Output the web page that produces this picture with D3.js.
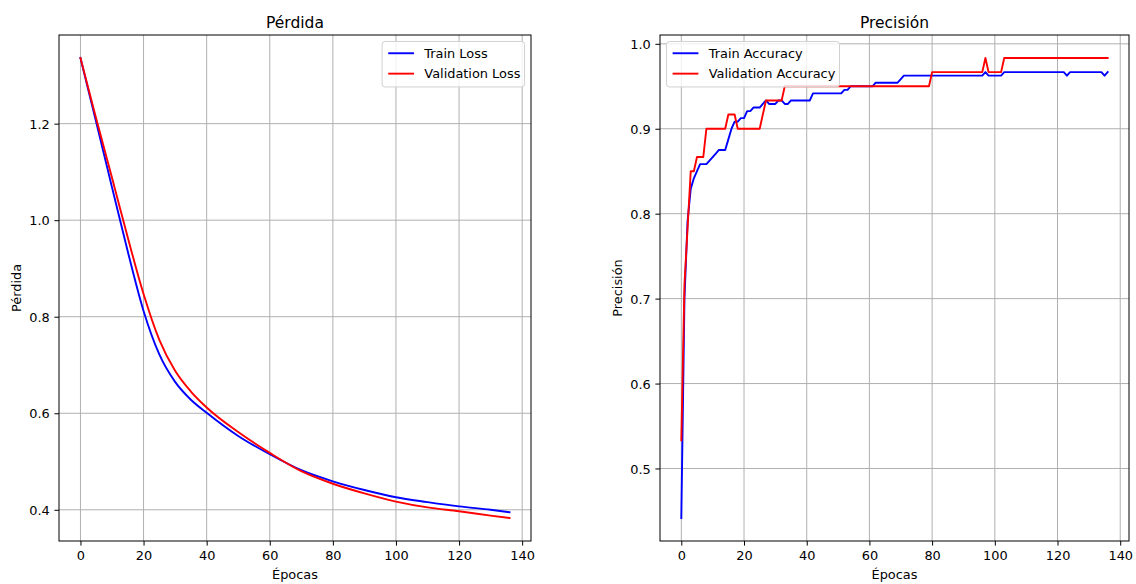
<!DOCTYPE html>
<html>
<head>
<meta charset="utf-8">
<script src="https://cdn.jsdelivr.net/npm/d3@7"></script>
<style>
  body { margin: 0; background: #fff; }
  svg { display: block; }
  text { font-family: "DejaVu Sans", sans-serif; fill: #000; }
</style>
</head>
<body>
<script>
// ---------------- DATA ----------------
const xTicks = [0, 20, 40, 60, 80, 100, 120, 140];
const lossTicks = [0.4, 0.6, 0.8, 1.0, 1.2];
const accTicks = [0.5, 0.6, 0.7, 0.8, 0.9, 1.0];

// Loss curves (read at sampled epochs)
const lossEpochs = [0, 5, 10, 15, 20, 25, 30, 35, 40, 50, 60, 70, 80, 90, 100, 110, 120, 130, 136];
const trainLoss  = [1.336, 1.203, 1.068, 0.935, 0.812, 0.722, 0.665, 0.628, 0.601, 0.553, 0.515, 0.482, 0.459, 0.441, 0.426, 0.416, 0.407, 0.400, 0.395];
const valLoss    = [1.336, 1.210, 1.088, 0.964, 0.847, 0.752, 0.688, 0.645, 0.612, 0.561, 0.518, 0.480, 0.454, 0.434, 0.417, 0.405, 0.397, 0.388, 0.383];

// Accuracy curves (one value per epoch, 0..136)
const trainAcc = [
  0.4417, 0.7000, 0.7917, 0.8292, 0.8417, 0.8500, 0.8583, 0.8583, 0.8583, 0.8625,
  0.8667, 0.8708, 0.8750, 0.8750, 0.8750, 0.8875, 0.9000, 0.9083, 0.9083, 0.9125,
  0.9125, 0.9208, 0.9208, 0.9250, 0.9250, 0.9250, 0.9292, 0.9333, 0.9292, 0.9292,
  0.9292, 0.9333, 0.9333, 0.9292, 0.9292, 0.9333, 0.9333, 0.9333, 0.9333, 0.9333,
  0.9333, 0.9333, 0.9417, 0.9417, 0.9417, 0.9417, 0.9417, 0.9417, 0.9417, 0.9417,
  0.9417, 0.9417, 0.9458, 0.9458, 0.9500, 0.9500, 0.9500, 0.9500, 0.9500, 0.9500,
  0.9500, 0.9500, 0.9542, 0.9542, 0.9542, 0.9542, 0.9542, 0.9542, 0.9542, 0.9542,
  0.9583, 0.9625, 0.9625, 0.9625, 0.9625, 0.9625, 0.9625, 0.9625, 0.9625, 0.9625,
  0.9625, 0.9625, 0.9625, 0.9625, 0.9625, 0.9625, 0.9625, 0.9625, 0.9625, 0.9625,
  0.9625, 0.9625, 0.9625, 0.9625, 0.9625, 0.9625, 0.9625, 0.9667, 0.9625, 0.9625,
  0.9625, 0.9625, 0.9625, 0.9667, 0.9667, 0.9667, 0.9667, 0.9667, 0.9667, 0.9667,
  0.9667, 0.9667, 0.9667, 0.9667, 0.9667, 0.9667, 0.9667, 0.9667, 0.9667, 0.9667,
  0.9667, 0.9667, 0.9667, 0.9625, 0.9667, 0.9667, 0.9667, 0.9667, 0.9667, 0.9667,
  0.9667, 0.9667, 0.9667, 0.9667, 0.9667, 0.9625, 0.9667
];
const valAcc = [
  0.5333, 0.7167, 0.7833, 0.8500, 0.8500, 0.8667, 0.8667, 0.8667, 0.9000, 0.9000,
  0.9000, 0.9000, 0.9000, 0.9000, 0.9000, 0.9167, 0.9167, 0.9167, 0.9000, 0.9000,
  0.9000, 0.9000, 0.9000, 0.9000, 0.9000, 0.9000, 0.9167, 0.9333, 0.9333, 0.9333,
  0.9333, 0.9333, 0.9333, 0.9500, 0.9500, 0.9500, 0.9500, 0.9500, 0.9500, 0.9500,
  0.9500, 0.9500, 0.9500, 0.9500, 0.9500, 0.9500, 0.9500, 0.9500, 0.9500, 0.9500,
  0.9500, 0.9500, 0.9500, 0.9500, 0.9500, 0.9500, 0.9500, 0.9500, 0.9500, 0.9500,
  0.9500, 0.9500, 0.9500, 0.9500, 0.9500, 0.9500, 0.9500, 0.9500, 0.9500, 0.9500,
  0.9500, 0.9500, 0.9500, 0.9500, 0.9500, 0.9500, 0.9500, 0.9500, 0.9500, 0.9500,
  0.9667, 0.9667, 0.9667, 0.9667, 0.9667, 0.9667, 0.9667, 0.9667, 0.9667, 0.9667,
  0.9667, 0.9667, 0.9667, 0.9667, 0.9667, 0.9667, 0.9667, 0.9833, 0.9667, 0.9667,
  0.9667, 0.9667, 0.9667, 0.9833, 0.9833, 0.9833, 0.9833, 0.9833, 0.9833, 0.9833,
  0.9833, 0.9833, 0.9833, 0.9833, 0.9833, 0.9833, 0.9833, 0.9833, 0.9833, 0.9833,
  0.9833, 0.9833, 0.9833, 0.9833, 0.9833, 0.9833, 0.9833, 0.9833, 0.9833, 0.9833,
  0.9833, 0.9833, 0.9833, 0.9833, 0.9833, 0.9833, 0.9833
];
const accEpochs = d3.range(trainAcc.length);

// ---------------- DRAW ----------------
const W = 1136, H = 584;
const FS = 12.9, TFS = 15.5;
const svg = d3.select("body").append("svg").attr("width", W).attr("height", H);

function panel(cfg) {
  const { left, right, top, bottom, title, ylabel, yTicks, series, legend, curve } = cfg;
  const allX = series.flatMap(s => s.x);
  const allY = series.flatMap(s => s.y);
  const xe = d3.extent(allX), ye = d3.extent(allY);
  const xp = (xe[1] - xe[0]) * 0.05, yp = (ye[1] - ye[0]) * 0.05;
  const x = d3.scaleLinear().domain([xe[0] - xp, xe[1] + xp]).range([left, right]);
  const y = d3.scaleLinear().domain([ye[0] - yp, ye[1] + yp]).range([bottom, top]);
  const g = svg.append("g");

  // grid
  g.append("g").selectAll("line").data(xTicks).join("line")
    .attr("x1", d => x(d)).attr("x2", d => x(d)).attr("y1", top).attr("y2", bottom)
    .attr("stroke", "#b0b0b0").attr("stroke-width", 1);
  g.append("g").selectAll("line").data(yTicks).join("line")
    .attr("y1", d => y(d)).attr("y2", d => y(d)).attr("x1", left).attr("x2", right)
    .attr("stroke", "#b0b0b0").attr("stroke-width", 1);

  // series
  series.forEach(s => {
    const line = d3.line().x(d => x(d[0])).y(d => y(d[1])).curve(curve);
    g.append("path").datum(d3.zip(s.x, s.y))
      .attr("d", line).attr("fill", "none")
      .attr("stroke", s.color).attr("stroke-width", 1.9)
      .attr("stroke-linejoin", "round").attr("stroke-linecap", "square");
  });

  // axes
  const xa = g.append("g").attr("transform", `translate(0,${bottom})`)
    .call(d3.axisBottom(x).tickValues(xTicks).tickFormat(d3.format("d")).tickSize(4.6).tickPadding(4.6));
  const ya = g.append("g").attr("transform", `translate(${left},0)`)
    .call(d3.axisLeft(y).tickValues(yTicks).tickFormat(d3.format(".1f")).tickSize(4.6).tickPadding(4.6));
  [xa, ya].forEach(a => {
    a.select(".domain").remove();
    a.selectAll(".tick line").attr("stroke", "#000").attr("stroke-width", 1);
    a.selectAll(".tick text").style("font-size", FS + "px").attr("fill", "#000")
      .style("font-family", '"DejaVu Sans", sans-serif');
  });
  xa.selectAll(".tick text").attr("dy", "0.76em");
  ya.selectAll(".tick text").attr("dy", "0.36em");

  // frame
  g.append("rect").attr("x", left).attr("y", top).attr("width", right - left).attr("height", bottom - top)
    .attr("fill", "none").attr("stroke", "#000").attr("stroke-width", 1);

  // title & labels
  g.append("text").attr("x", (left + right) / 2).attr("y", top - 7.5)
    .attr("text-anchor", "middle").style("font-size", TFS + "px").text(title);
  g.append("text").attr("x", (left + right) / 2).attr("y", 579)
    .attr("text-anchor", "middle").style("font-size", FS + "px").text("Épocas");
  g.append("text").attr("transform", `translate(${left - 38},${(top + bottom) / 2}) rotate(-90)`)
    .attr("text-anchor", "middle").style("font-size", FS + "px").text(ylabel);

  // legend
  const lg = g.append("g");
  const bp = 0.4 * FS, hl = 2.0 * FS, htp = 0.8 * FS, rowPitch = 20.4;
  const texts = series.map((s, i) => lg.append("text")
    .style("font-size", FS + "px").text(s.name));
  const tw = d3.max(texts, t => t.node().getComputedTextLength());
  const bw = bp + hl + htp + tw + bp;
  const bh = 45.5;
  const bx = legend === "right" ? right - 6.45 - bw : left + 6.45;
  const by = top + 6.45;
  lg.insert("rect", ":first-child").attr("x", bx).attr("y", by).attr("width", bw).attr("height", bh)
    .attr("rx", 3).attr("fill", "#fff").attr("fill-opacity", 0.8)
    .attr("stroke", "#d0d0d0").attr("stroke-width", 1);
  series.forEach((s, i) => {
    const cy = by + 11.8 + i * rowPitch;
    lg.append("line").attr("x1", bx + bp + 1).attr("x2", bx + bp + hl + 1)
      .attr("y1", cy).attr("y2", cy).attr("stroke", s.color).attr("stroke-width", 1.9);
    texts[i].attr("x", bx + bp + hl + htp + 1).attr("y", cy + 4.6);
  });
}

panel({
  left: 59, right: 531, top: 35, bottom: 541,
  title: "Pérdida", ylabel: "Pérdida", yTicks: lossTicks, legend: "right",
  curve: d3.curveMonotoneX,
  series: [
    { name: "Train Loss", x: lossEpochs, y: trainLoss, color: "#0000ff" },
    { name: "Validation Loss", x: lossEpochs, y: valLoss, color: "#ff0000" }
  ]
});

panel({
  left: 660, right: 1129, top: 35, bottom: 541,
  title: "Precisión", ylabel: "Precisión", yTicks: accTicks, legend: "left",
  curve: d3.curveLinear,
  series: [
    { name: "Train Accuracy", x: accEpochs, y: trainAcc, color: "#0000ff" },
    { name: "Validation Accuracy", x: accEpochs, y: valAcc, color: "#ff0000" }
  ]
});
</script>
</body>
</html>
